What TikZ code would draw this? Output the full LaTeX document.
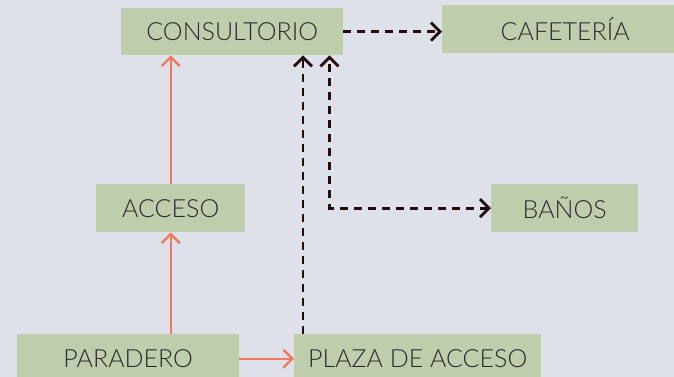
\documentclass[tikz,border=0pt]{standalone}
\usepackage{xcolor}
\usepackage{fontspec}
\IfFontExistsTF{Lato Light}{\setmainfont{Lato Light}}{\setmainfont{Lato}}
\usepackage{tikz}
\usetikzlibrary{arrows.meta, positioning}
\definecolor{page}{RGB}{223,225,234}
\definecolor{zone}{RGB}{190,205,172}
\definecolor{walkway}{RGB}{240,122,96}
\definecolor{link}{RGB}{32,10,14}
\definecolor{ink}{RGB}{42,42,42}

\tikzset{
  area/.style={fill=zone, text=ink, anchor=north west, inner sep=0pt,
    font=\fontsize{25}{25}\selectfont},
  barb/.tip={Straight Barb[length=9pt, width=18pt]},
  walk/.style={draw=walkway, line width=2.4pt, -barb},
  relation/.style={draw=link, line width=2.8pt, dash pattern=on 8pt off 6pt, -barb}
}

\begin{document}
\begin{tikzpicture}[x=1pt, y=-1pt]
    \fill[page] (0,0) rectangle (674,377);
    \useasboundingbox (0,0) rectangle (674,377);

    \node[area, minimum width=222pt, minimum height=47pt] (consultorio) at (121,8) {CONSULTORIO};
    \node[area, minimum width=246pt, minimum height=48pt] (cafeteria) at (442,5) {CAFETERÍA};
    \node[area, minimum width=149pt, minimum height=48pt] (acceso) at (96,184) {ACCESO};
    \node[area, minimum width=147pt, minimum height=48pt] (banos) at (491,184) {BAÑOS};
    \node[area, minimum width=222pt, minimum height=49pt] (paradero) at (17,334) {PARADERO};
    \node[area, minimum width=247pt, minimum height=49pt] (plaza) at (294,334) {PLAZA DE ACCESO};

    % recorrido peatonal
    \draw[walk] (acceso.south |- paradero.north) -- (acceso.south);
    \draw[walk] (acceso.north) -- (acceso.north |- consultorio.south);
    \draw[walk] (paradero.east) -- (plaza.west);

    % relaciones
    \coordinate (plazaup) at ([xshift=9pt]plaza.north west);
    \coordinate (banosup) at ([xshift=-14pt]consultorio.south east);
    \draw[relation] (consultorio.east) -- (consultorio.east -| cafeteria.west);
    \draw[relation] (plazaup) -- (plazaup |- consultorio.south);
    \draw[relation, barb-barb] (banos.west) -| (banosup);
\end{tikzpicture}
\end{document}
